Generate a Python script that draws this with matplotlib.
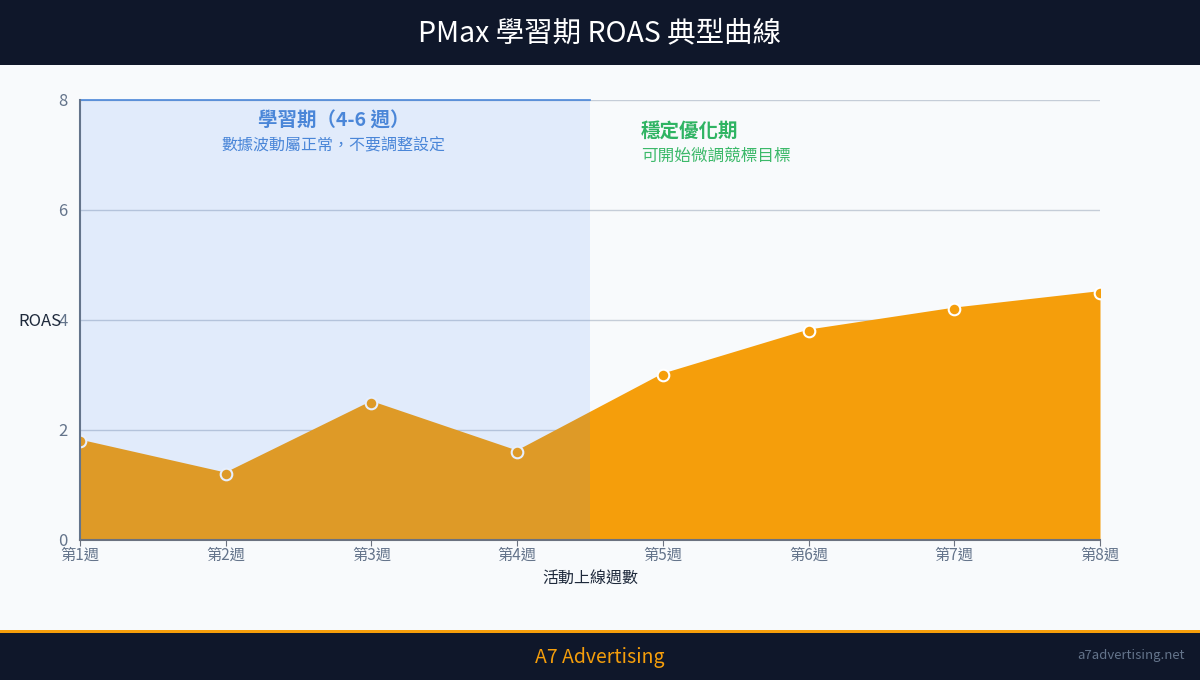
import matplotlib
matplotlib.use("Agg")
import matplotlib.pyplot as plt
from matplotlib.patches import Rectangle

plt.rcParams['font.family'] = ['Noto Sans CJK TC', 'DejaVu Sans']

weeks = ["第1週", "第2週", "第3週", "第4週", "第5週", "第6週", "第7週", "第8週"]
roas = [1.8, 1.2, 2.5, 1.6, 3.0, 3.8, 4.2, 4.5]
y_ticks = [0, 2, 4, 6, 8]
learning_end = 3.5

title = "PMax 學習期 ROAS 典型曲線"
learn_title = "學習期（4-6 週）"
learn_sub = "數據波動屬正常，不要調整設定"
stable_title = "穩定優化期"
stable_sub = "可開始微調競標目標"

fig = plt.figure(figsize=(12, 6.8), dpi=100)
fig.patch.set_facecolor("#f8fafc")

# header & footer
fig.add_artist(Rectangle((0, 1 - 65/680), 1, 65/680, transform=fig.transFigure,
                         facecolor="#0f172a", edgecolor="none", zorder=0))
fig.add_artist(Rectangle((0, 0), 1, 47/680, transform=fig.transFigure,
                         facecolor="#0f172a", edgecolor="none", zorder=0))
fig.add_artist(Rectangle((0, 47/680), 1, 3/680, transform=fig.transFigure,
                         facecolor="#f59e0b", edgecolor="none", zorder=0))
fig.text(0.5, 1 - 33/680, title, color="white", fontsize=20.5, fontweight="medium",
         ha="center", va="center")
fig.text(0.5, 23/680, "A7 Advertising", color="#f59e0b", fontsize=14, fontweight="medium",
         ha="center", va="center")
fig.text(1 - 15/1200, 25/680, "a7advertising.net", color="#64748b", fontsize=9.5,
         ha="right", va="center")

ax = fig.add_axes([80/1200, 1 - 540/680, 1020/1200, 440/680])
ax.set_facecolor("none")
x = list(range(len(weeks)))
ax.fill_between(x, roas, 0, color="#f59e0b", linewidth=0, zorder=2)
ax.plot(x, roas, color="#f59e0b", linewidth=2, zorder=3)
ax.scatter(x, roas, s=70, color="#f59e0b", edgecolors="white", linewidths=1.5,
           zorder=4, clip_on=True)

ax.axvspan(0, learning_end, color="#3b82f6", alpha=0.12, linewidth=0, zorder=5)
ax.plot([0, learning_end], [8, 8], color="#4a86d8", linewidth=1.2, zorder=6, clip_on=False)

ax.set_xlim(0, len(weeks) - 1)
ax.set_ylim(0, 8)
ax.set_yticks(y_ticks)
ax.set_xticks(x)
ax.set_xticklabels(weeks)
ax.grid(axis="y", color="#c5cdd8", linewidth=1, zorder=1)
ax.set_axisbelow(True)
for s in ["top", "right"]:
    ax.spines[s].set_visible(False)
ax.spines["left"].set_color("#64748b")
ax.spines["left"].set_linewidth(1.5)
ax.spines["bottom"].set_color("#6b7280")
ax.spines["bottom"].set_linewidth(1.5)
ax.spines["left"].set_zorder(7)
ax.spines["bottom"].set_zorder(7)
ax.tick_params(axis="y", length=0, pad=9, labelsize=12, labelcolor="#64748b")
ax.tick_params(axis="x", length=4, color="#6b7280", pad=1, labelsize=11, labelcolor="#64748b")

ax.set_xlabel("活動上線週數", fontsize=11.5, color="#1e293b", labelpad=5)
fig.text(18/1200, 1 - 321/680, "ROAS", fontsize=12, color="#1e293b", ha="left", va="center")

ax.text(1.74, 7.62, learn_title, fontsize=14, fontweight="bold", color="#4a86d8",
        ha="center", va="center", zorder=8)
ax.text(1.74, 7.17, learn_sub, fontsize=11.5, color="#4a86d8", ha="center", va="center", zorder=8)
ax.text((641-80)/145.7, 7.44, stable_title, fontsize=14, fontweight="bold", color="#2fb463",
        ha="left", va="center", zorder=8)
ax.text((641-80)/145.7, 6.97, stable_sub, fontsize=12, color="#3cb96a",
        ha="left", va="center", zorder=8)

fig.savefig("out.png", dpi=100, facecolor=fig.get_facecolor())
